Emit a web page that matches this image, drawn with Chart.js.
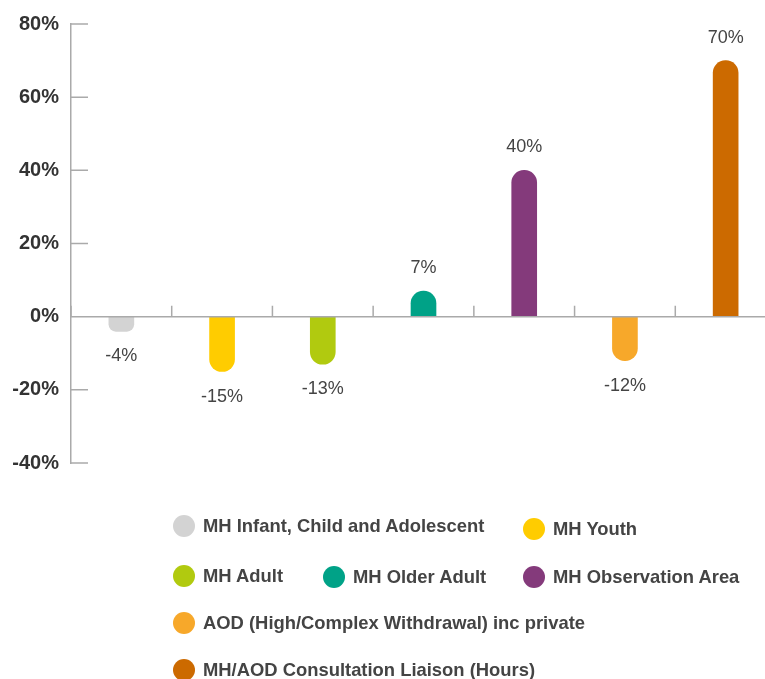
<!DOCTYPE html>
<html lang="en">
<head>
<meta charset="UTF-8">
<title>Change by service stream</title>
<script src="https://cdn.jsdelivr.net/npm/chart.js"></script>
<style>
    html, body {
        margin: 0;
        padding: 0;
        overflow: hidden;
        background: #fff;
    }
    .wrap {
        position: relative;
        width: 765px;
        height: 679px;
        overflow: hidden;
    }
    #chart {
        position: absolute;
        left: 0;
        top: 0;
    }
    .legend-item {
        position: absolute;
        display: flex;
        align-items: center;
        white-space: nowrap;
        transform: translateY(-50%);
        font-family: Arial, 'Liberation Sans', sans-serif;
        font-weight: bold;
        font-size: 18.4px;
        color: #444;
    }
    .legend-item .dot {
        width: 22px;
        height: 22px;
        border-radius: 50%;
        margin-right: 8px;
        flex: none;
    }
</style>
</head>
<body>
<div class="wrap">
    <canvas id="chart" width="776" height="679"></canvas>
    <div id="legend"></div>
</div>

<script>
    const labels = [
        'MH Infant, Child and Adolescent',
        'MH Youth',
        'MH Adult',
        'MH Older Adult',
        'MH Observation Area',
        'AOD (High/Complex Withdrawal) inc private',
        'MH/AOD Consultation Liaison (Hours)'
    ];
    const values = [-4, -15, -13, 7, 40, -12, 70];
    const colors = ['#d3d3d3', '#ffcc00', '#b1ca0f', '#00a287', '#843a7b', '#f7a82a', '#cc6a00'];
    const yTicks = { min: -40, max: 80, step: 20 };

    // where each legend entry sits (dot left edge, row centre)
    const legendSpots = [
        [173, 526], [523, 529],
        [173, 576], [323, 577], [523, 577],
        [173, 623],
        [173, 670]
    ];

    const axisColor = '#aaa';

    const legendBox = document.getElementById('legend');
    labels.forEach((name, i) => {
        const item = document.createElement('div');
        item.className = 'legend-item';
        item.style.left = legendSpots[i][0] + 'px';
        item.style.top = legendSpots[i][1] + 'px';
        item.innerHTML = `<span class="dot" style="background:${colors[i]}"></span><span>${name}</span>`;
        legendBox.appendChild(item);
    });

    // zero line, category ticks, inside y ticks and value labels
    const decorations = {
        id: 'decorations',
        afterDatasetsDraw(chart) {
            const { ctx, chartArea, scales: { x, y } } = chart;
            const zero = y.getPixelForValue(0);
            const half = (x.getPixelForValue(1) - x.getPixelForValue(0)) / 2;
            ctx.save();
            ctx.strokeStyle = axisColor;
            ctx.lineWidth = 1.5;
            ctx.beginPath();
            ctx.moveTo(chartArea.left, zero);
            ctx.lineTo(chartArea.right, zero);
            labels.forEach((_, i) => {
                const bx = x.getPixelForValue(i) - half;
                ctx.moveTo(bx, zero);
                ctx.lineTo(bx, zero - 11);
            });
            y.ticks.forEach(t => {
                const py = y.getPixelForValue(t.value);
                ctx.moveTo(chartArea.left, py);
                ctx.lineTo(chartArea.left + 17, py);
            });
            ctx.stroke();

            ctx.fillStyle = '#444';
            ctx.font = '18px Arial, "Liberation Sans", sans-serif';
            ctx.textAlign = 'center';
            ctx.textBaseline = 'middle';
            chart.getDatasetMeta(0).data.forEach((bar, i) => {
                const v = values[i];
                const ty = v >= 0 ? bar.y - 23 : bar.y + 25;
                ctx.fillText(v + '%', bar.x, ty);
            });
            ctx.restore();
        }
    };

    new Chart(document.getElementById('chart'), {
        type: 'bar',
        data: {
            labels: labels,
            datasets: [{
                data: values,
                backgroundColor: colors,
                barThickness: 25,
                borderRadius: 13,
                borderSkipped: 'start'
            }]
        },
        options: {
            responsive: false,
            animation: false,
            layout: { padding: { top: 22, bottom: 216, left: 0, right: 0 } },
            plugins: {
                legend: { display: false },
                tooltip: { enabled: false }
            },
            scales: {
                x: { display: false },
                y: {
                    min: yTicks.min,
                    max: yTicks.max,
                    afterFit(s) { s.width = 71; },
                    grid: { display: false, drawTicks: false },
                    border: { display: true, color: axisColor, width: 1.5 },
                    ticks: {
                        stepSize: yTicks.step,
                        padding: 12,
                        color: '#333',
                        font: { family: 'Arial, "Liberation Sans", sans-serif', size: 20, weight: 'bold' },
                        callback: v => v + '%'
                    }
                }
            }
        },
        plugins: [decorations]
    });
</script>
</body>
</html>
